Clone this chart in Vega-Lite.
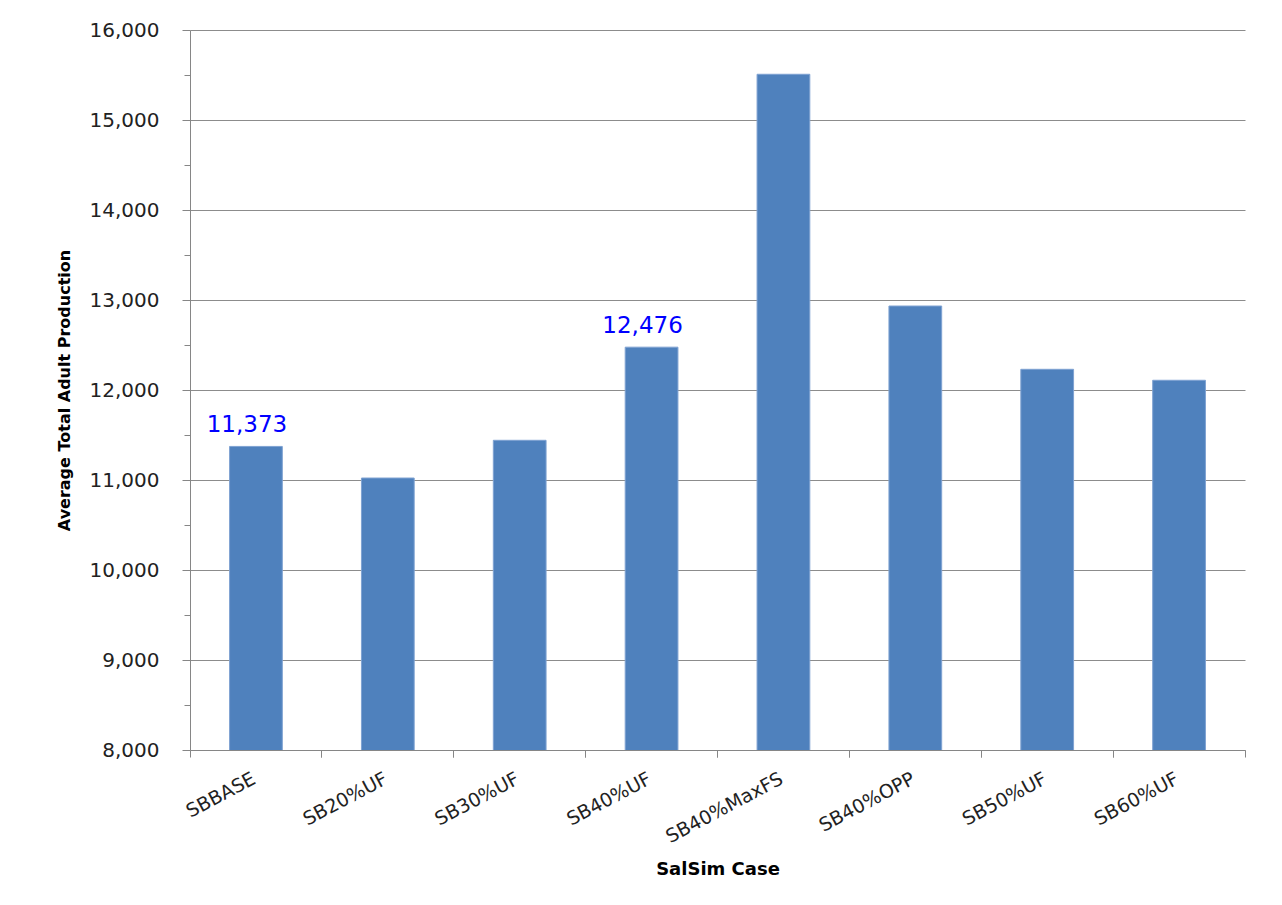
{
  "$schema": "https://vega.github.io/schema/vega-lite/v6.json",
  "autosize": {"type": "none"},
  "padding": {"left": 190, "top": 30, "right": 37, "bottom": 155},
  "width": 1055,
  "height": 720,
  "background": "white",
  "config": {
    "view": {"stroke": null},
    "font": "DejaVu Sans"
  },
  "data": {
    "values": [
      {"Case": "SBBASE", "Production": 11373, "Labeled": true},
      {"Case": "SB20%UF", "Production": 11022, "Labeled": false},
      {"Case": "SB30%UF", "Production": 11441, "Labeled": false},
      {"Case": "SB40%UF", "Production": 12476, "Labeled": true},
      {"Case": "SB40%MaxFS", "Production": 15508, "Labeled": false},
      {"Case": "SB40%OPP", "Production": 12933, "Labeled": false},
      {"Case": "SB50%UF", "Production": 12230, "Labeled": false},
      {"Case": "SB60%UF", "Production": 12108, "Labeled": false}
    ]
  },
  "resolve": {"axis": {"x": "independent", "y": "independent"}},
  "layer": [
    {
      "mark": {"type": "bar", "color": "#4F81BD", "stroke": "#7FA2D2", "strokeWidth": 1, "clip": true},
      "encoding": {
        "x": {
          "field": "Case", "type": "nominal", "sort": null,
          "scale": {"paddingInner": 0.6, "paddingOuter": 0.3},
          "axis": {
            "orient": "bottom",
            "title": "SalSim Case",
            "titleFont": "DejaVu Sans", "titleFontSize": 18, "titleFontWeight": "bold", "titleColor": "#000000",
            "titlePadding": 14,
            "labelAngle": -28, "labelFontSize": 19, "labelColor": "#222222", "labelFont": "DejaVu Sans",
            "labelPadding": 12, "labelOffset": -6,
            "bandPosition": -0.75,
            "tickSize": 7, "tickColor": "#868686", "tickWidth": 1,
            "domainColor": "#868686", "domainWidth": 1,
            "grid": false
          }
        },
        "y": {
          "field": "Production", "type": "quantitative",
          "scale": {"domain": [8000, 16000], "zero": false, "nice": false},
          "axis": {
            "title": "Average Total Adult Production",
            "titleFont": "DejaVu Sans", "titleFontSize": 16, "titleFontWeight": "bold", "titleColor": "#000000",
            "titlePadding": 17,
            "values": [8000, 8500, 9000, 9500, 10000, 10500, 11000, 11500, 12000, 12500, 13000, 13500, 14000, 14500, 15000, 15500, 16000],
            "labelExpr": "datum.value % 1000 == 0 ? format(datum.value, ',') : ''",
            "labelFontSize": 20, "labelColor": "#222222", "labelFont": "DejaVu Sans",
            "labelPadding": 23,
            "tickSize": {"condition": {"test": "datum.value % 1000 == 0", "value": 8}, "value": 6},
            "tickColor": "#868686",
            "domainColor": "#868686",
            "grid": true,
            "gridColor": {"condition": {"test": "datum.value % 1000 == 0", "value": "#8C8C8C"}, "value": "transparent"},
            "gridWidth": 1
          }
        }
      }
    },
    {
      "transform": [{"filter": "datum.Labeled"}],
      "mark": {"type": "text", "color": "#0000FF", "font": "DejaVu Sans", "fontSize": 23, "baseline": "alphabetic", "dx": -9, "dy": -14},
      "encoding": {
        "x": {
          "field": "Case", "type": "nominal", "sort": null,
          "axis": {
            "orient": "bottom",
            "title": null, "labels": false, "domain": false, "grid": false,
            "bandPosition": 1.75, "tickSize": 7, "tickColor": "#868686"
          }
        },
        "y": {
          "field": "Production", "type": "quantitative",
          "axis": null
        },
        "text": {"field": "Production", "type": "quantitative", "format": ",.0f"}
      }
    }
  ]
}
